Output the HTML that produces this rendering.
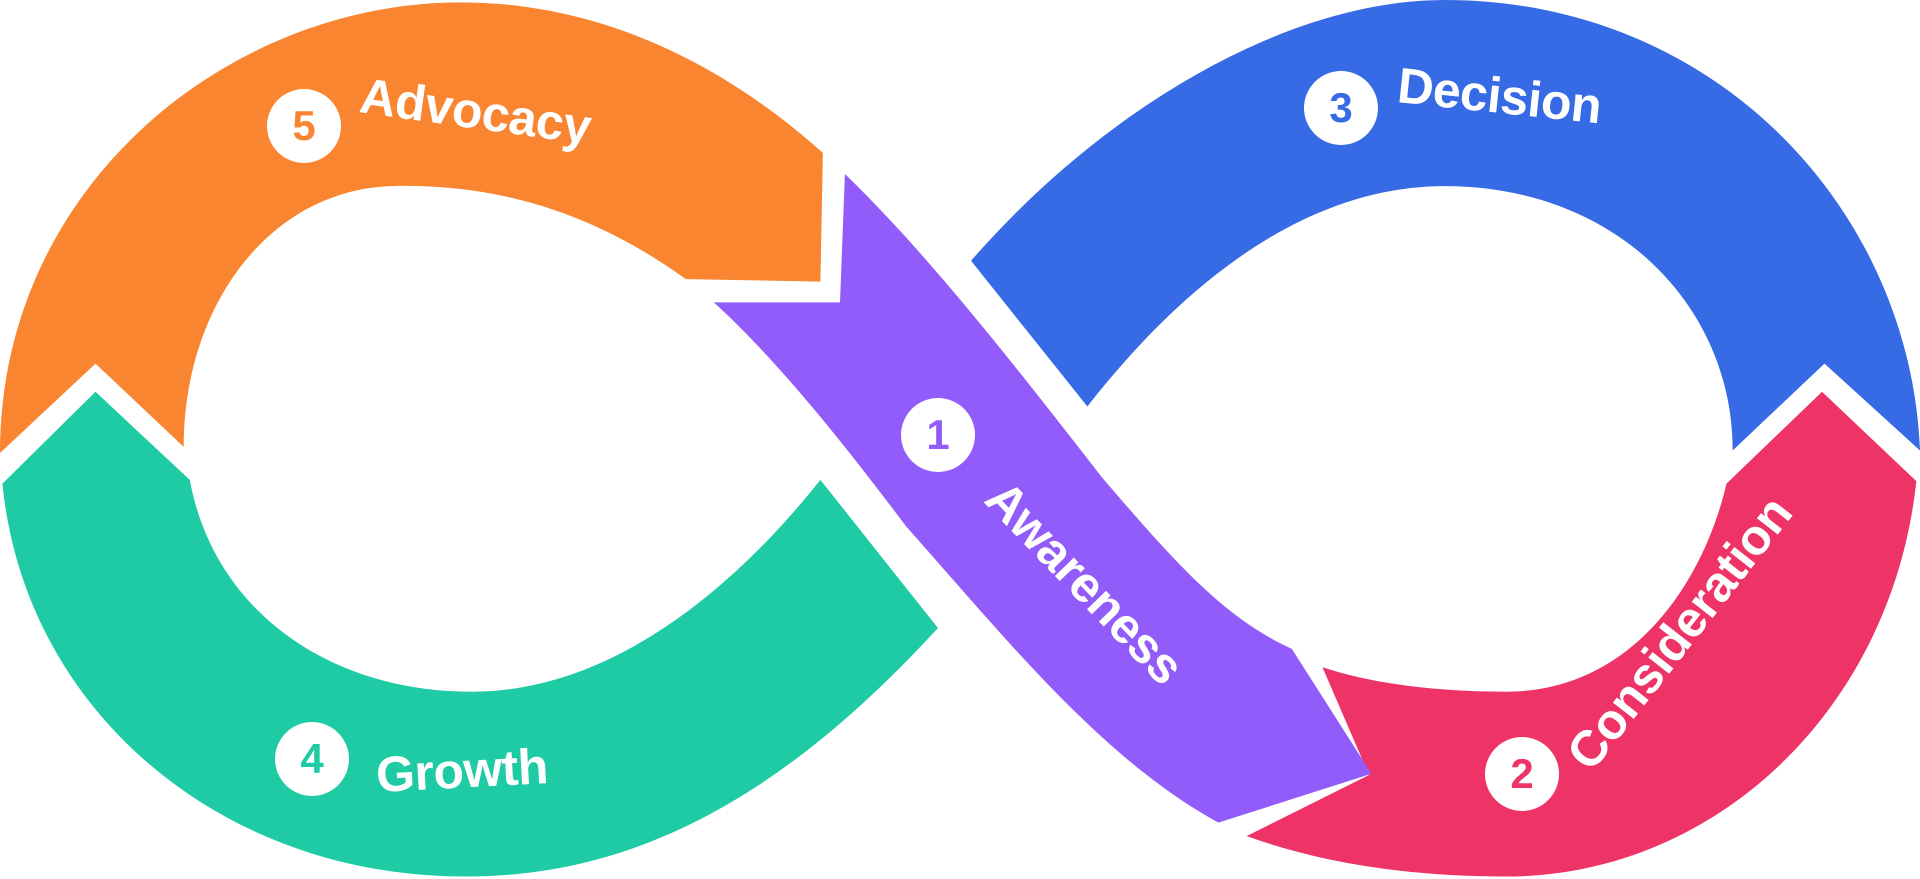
<!DOCTYPE html>
<html><head><meta charset="utf-8"><style>
html,body{margin:0;padding:0;background:#fff;width:1920px;height:879px;overflow:hidden;position:relative}
svg{display:block;position:absolute;left:0;top:0}
.t{position:absolute;font-family:"Liberation Sans",sans-serif;font-weight:bold;font-size:50px;line-height:50px;height:50px;color:#fff;white-space:nowrap;letter-spacing:-0.5px;transform-origin:0 43px}
.n{position:absolute;width:74px;height:74px;margin:-37px 0 0 -37px;border-radius:50%;background:#fff;font-family:"Liberation Sans",sans-serif;font-weight:bold;font-size:42px;line-height:74px;text-align:center}
</style></head><body>
<svg width="1920" height="879" viewBox="0 0 1568 718" preserveAspectRatio="none">
<path fill="#F98530" d="M0,370 C0,150 190,0 380,2 C500,3 600,60 672,125 L670,230 L560,228 C480,170 400,150 320,152 C220,155 150,250 150,365 L78,297 Z"/>
<path fill="#1ECBA4" d="M2,395 L78,320 L155,392 C175,500 270,565 385,565 C500,565 600,480 670,392 L766,513 C640,650 520,716 380,716 C180,716 20,580 2,395 Z"/>
<path fill="#376BE5" d="M793,213 C900,90 1050,0 1180,0 C1400,0 1560,170 1568,368 L1490,297 L1415,368 C1415,250 1320,152 1180,152 C1060,152 960,240 888,332 Z"/>
<path fill="#EE3466" d="M1410,395 L1488,320 L1565,393 C1545,580 1400,716 1230,716 C1150,716 1080,705 1018,683 L1118,633 L1080,545 C1120,558 1170,565 1230,565 C1330,565 1390,480 1410,395 Z"/>
<path fill="#925CFA" d="M583,247 L686,247 L690,142 C760,210 830,300 900,390 C960,460 1000,505 1055,530 L1120,632 L995,672 C900,620 820,520 740,430 C680,350 630,290 583,247 Z"/>
</svg>

<div class="n" style="left:304px;top:126px;color:#F98530">5</div>
<div class="t" style="left:358px;top:70px;transform:rotate(8deg)">Advocacy</div>

<div class="n" style="left:1341px;top:108px;color:#376BE5">3</div>
<div class="t" style="left:1396px;top:60px;transform:rotate(6deg)">Decision</div>

<div class="n" style="left:312px;top:759px;color:#1ECBA4">4</div>
<div class="t" style="left:377px;top:750px;transform:rotate(-3deg)">Growth</div>

<div class="n" style="left:938px;top:435px;color:#925CFA">1</div>
<div class="t" style="left:982px;top:459px;transform:rotate(46deg)">Awareness</div>

<div class="n" style="left:1522px;top:774px;color:#EE3466">2</div>
<div class="t" style="left:1592px;top:731px;transform:rotate(-52deg)">Consideration</div>
</body></html>
